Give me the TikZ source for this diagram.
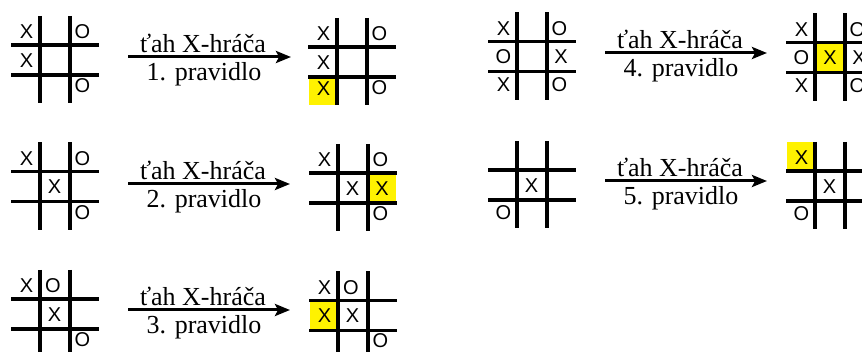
\documentclass[tikz,border=0pt]{standalone}
\usepackage{fontspec}
\setmainfont{Liberation Serif}
\newfontfamily\piecefont{Liberation Sans}
\usetikzlibrary{arrows.meta}
\tikzset{
  gridline/.style={line width=3.4pt, black},
  pc/.style={font=\piecefont\fontsize{20pt}{20pt}\selectfont, inner sep=0pt, anchor=center},
  hl/.style={fill=yellow, draw=none},
  movearrow/.style={line width=3pt, -{Stealth[length=15pt,width=12pt,inset=3pt]}},
  lbl/.style={font=\fontsize{26pt}{26pt}\selectfont, inner sep=0pt, anchor=base},
}
\newcommand\gridlines{%
  \draw[gridline] (0,-29) -- (0,58.5);
  \draw[gridline] (30,-29) -- (30,58.5);
  \draw[gridline] (-29,0) -- (59,0);
  \draw[gridline] (-29,30) -- (59,30);
}
\begin{document}
\begin{tikzpicture}[x=1pt,y=-1pt]
\clip (0,0) rectangle (862,352);
\fill[white] (0,0) rectangle (862,352);

% ---------- Row 1 left: rule 1 ----------
\begin{scope}[shift={(40,45)}]
  \gridlines
  \node[pc] (a1) at (-13.5,-13) {X};
  \node[pc] (a2) at (42.5,-13) {O};
  \node[pc] (a3) at (-13.5,15.5) {X};
  \node[pc] (a4) at (42.5,41) {O};
\end{scope}
\coordinate (r1s) at (128,57);
\coordinate (r1e) at (291,57);
\draw[movearrow] (r1s) -- (r1e);
\node[lbl] (t1a) at (203,53) {ťah X-hráča};
\node[lbl] (t1b) at (204,81) {1. pravidlo};
\begin{scope}[shift={(337,47)}]
  \fill[hl] (-28,30) rectangle (0,58.5);
  \gridlines
  \node[pc] (b1) at (-13.5,-13) {X};
  \node[pc] (b2) at (42.5,-13) {O};
  \node[pc] (b3) at (-13.5,15.5) {X};
  \node[pc] (b4) at (-13.5,42) {X};
  \node[pc] (b5) at (42.5,41) {O};
\end{scope}

% ---------- Row 2 left: rule 2 ----------
\begin{scope}[shift={(40,171.5)}]
  \gridlines
  \node[pc] (c1) at (-13.5,-13) {X};
  \node[pc] (c2) at (42.5,-13) {O};
  \node[pc] (c3) at (14.5,15.5) {X};
  \node[pc] (c4) at (42.5,41) {O};
\end{scope}
\coordinate (r2s) at (128,184);
\coordinate (r2e) at (290,184);
\draw[movearrow] (r2s) -- (r2e);
\node[lbl] (t2a) at (203,180) {ťah X-hráča};
\node[lbl] (t2b) at (204,208) {2. pravidlo};
\begin{scope}[shift={(338,173)}]
  \fill[hl] (30,0) rectangle (58,30);
  \gridlines
  \node[pc] (d1) at (-13.5,-13) {X};
  \node[pc] (d2) at (42.5,-13) {O};
  \node[pc] (d3) at (14.5,15.5) {X};
  \node[pc] (d4) at (44,15.5) {X};
  \node[pc] (d5) at (42.5,41) {O};
\end{scope}

% ---------- Row 3 left: rule 3 ----------
\begin{scope}[shift={(40,299)}]
  \gridlines
  \node[pc] (e1) at (-13.5,-13) {X};
  \node[pc] (e2) at (13,-13) {O};
  \node[pc] (e3) at (14.5,15.5) {X};
  \node[pc] (e4) at (42.5,41) {O};
\end{scope}
\coordinate (r3s) at (128,310);
\coordinate (r3e) at (290,310);
\draw[movearrow] (r3s) -- (r3e);
\node[lbl] (t3a) at (203,306) {ťah X-hráča};
\node[lbl] (t3b) at (204,334) {3. pravidlo};
\begin{scope}[shift={(338,300.5)}]
  \fill[hl] (-28,0) rectangle (0,30);
  \gridlines
  \node[pc] (f1) at (-13.5,-13) {X};
  \node[pc] (f2) at (13,-13) {O};
  \node[pc] (f3) at (-13.5,15.5) {X};
  \node[pc] (f4) at (14.5,15.5) {X};
  \node[pc] (f5) at (42.5,40) {O};
\end{scope}

% ---------- Row 1 right: rule 4 ----------
\begin{scope}[shift={(517,41.5)}]
  \gridlines
  \node[pc] (g1) at (-13.5,-13) {X};
  \node[pc] (g2) at (42.5,-13) {O};
  \node[pc] (g3) at (-13.5,15.5) {O};
  \node[pc] (g4) at (44,15.5) {X};
  \node[pc] (g5) at (-13.5,43.5) {X};
  \node[pc] (g6) at (42.5,43.5) {O};
\end{scope}
\coordinate (r4s) at (605,53);
\coordinate (r4e) at (767,53);
\draw[movearrow] (r4s) -- (r4e);
\node[lbl] (t4a) at (680,49) {ťah X-hráča};
\node[lbl] (t4b) at (681,77) {4. pravidlo};
\begin{scope}[shift={(815,42.5)}]
  \fill[hl] (0,0) rectangle (30,30);
  \gridlines
  \node[pc] (h1) at (-13.5,-13) {X};
  \node[pc] (h2) at (42.5,-13) {O};
  \node[pc] (h3) at (-13.5,15.5) {O};
  \node[pc] (h4) at (15,15.5) {X};
  \node[pc] (h5) at (44,15.5) {X};
  \node[pc] (h6) at (-13.5,43.5) {X};
  \node[pc] (h7) at (42.5,43.5) {O};
\end{scope}

% ---------- Row 2 right: rule 5 ----------
\begin{scope}[shift={(517,170)}]
  \gridlines
  \node[pc] (i1) at (14.5,15.5) {X};
  \node[pc] (i2) at (-13.5,43) {O};
\end{scope}
\coordinate (r5s) at (605,181);
\coordinate (r5e) at (767,181);
\draw[movearrow] (r5s) -- (r5e);
\node[lbl] (t5a) at (680,177) {ťah X-hráča};
\node[lbl] (t5b) at (681,205) {5. pravidlo};
\begin{scope}[shift={(815,171)}]
  \fill[hl] (-28,-28.5) rectangle (0,0);
  \gridlines
  \node[pc] (j1) at (-13.5,-13) {X};
  \node[pc] (j2) at (14.5,15.5) {X};
  \node[pc] (j3) at (-13.5,43) {O};
\end{scope}
\end{tikzpicture}
\end{document}
